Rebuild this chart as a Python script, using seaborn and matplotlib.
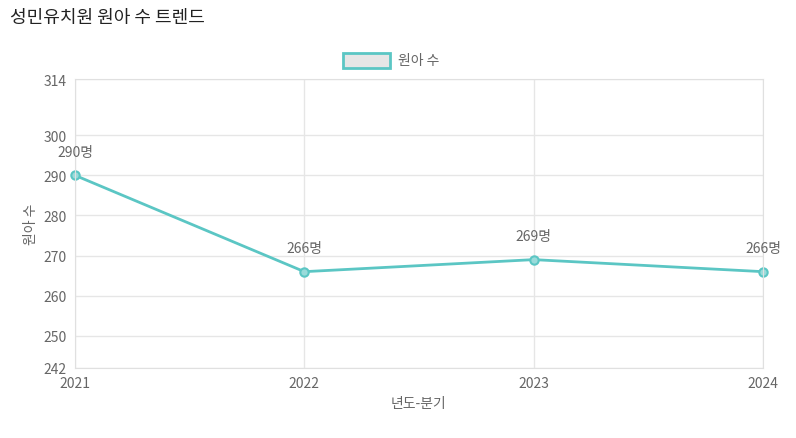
import matplotlib
matplotlib.use("Agg")
import matplotlib.pyplot as plt
from matplotlib import font_manager as fm
import seaborn as sns
import pandas as pd

years = ["2021", "2022", "2023", "2024"]
counts = [290, 266, 269, 266]
yticks = [242, 250, 260, 270, 280, 290, 300, 314]

names = sorted({f.name for f in fm.fontManager.ttflist if "CJK" in f.name})
pref = [n for n in names if n.endswith("KR")] + names
plt.rcParams["font.family"] = (pref[:1] if pref else []) + ["DejaVu Sans"]
color = "#5BC6C4"
df = pd.DataFrame({"x": range(len(years)), "y": counts})

fig = plt.figure(figsize=(7.96, 4.39), dpi=100)
ax = fig.add_axes([75/796, 1-369/439, (763-75)/796, (369-80)/439])
sns.lineplot(data=df, x="x", y="y", ax=ax, color=color, linewidth=2,
             marker="o", markersize=6, markerfacecolor="#9ADBDA",
             markeredgecolor=color, markeredgewidth=1.5, clip_on=False)
ax.set_xlim(0, len(years)-1)
ax.set_ylim(242, 314)
ax.set_yticks(yticks)
ax.set_xticks(range(len(years)))
ax.set_xticklabels(years)
ax.grid(True, color="#e6e6e6", linewidth=1)
ax.set_axisbelow(True)
for s in ax.spines.values():
    s.set_color("#e0e0e0")
ax.tick_params(colors="#666666", labelsize=10, length=0, pad=6)
ax.set_xlabel("년도-분기", color="#666666", fontsize=10)
ax.set_ylabel("원아 수", color="#666666", fontsize=10)
for i, v in enumerate(counts):
    ax.annotate(f"{v}명", (i, v), xytext=(0, 12), textcoords="offset points",
                ha="center", va="bottom", color="#666666", fontsize=10,
                annotation_clip=False)
fig.text(10/796, 1-18/439, "성민유치원 원아 수 트렌드", fontsize=13, color="#222222", va="center")
fig.patches.append(plt.Rectangle((343/796, 1-69/439), 47/796, 15/439,
                   transform=fig.transFigure, facecolor="#e6e6e6",
                   edgecolor=color, linewidth=2))
fig.text(398/796, 1-61/439, "원아 수", fontsize=10, color="#666666", va="center")
fig.savefig("out.png", dpi=100)
